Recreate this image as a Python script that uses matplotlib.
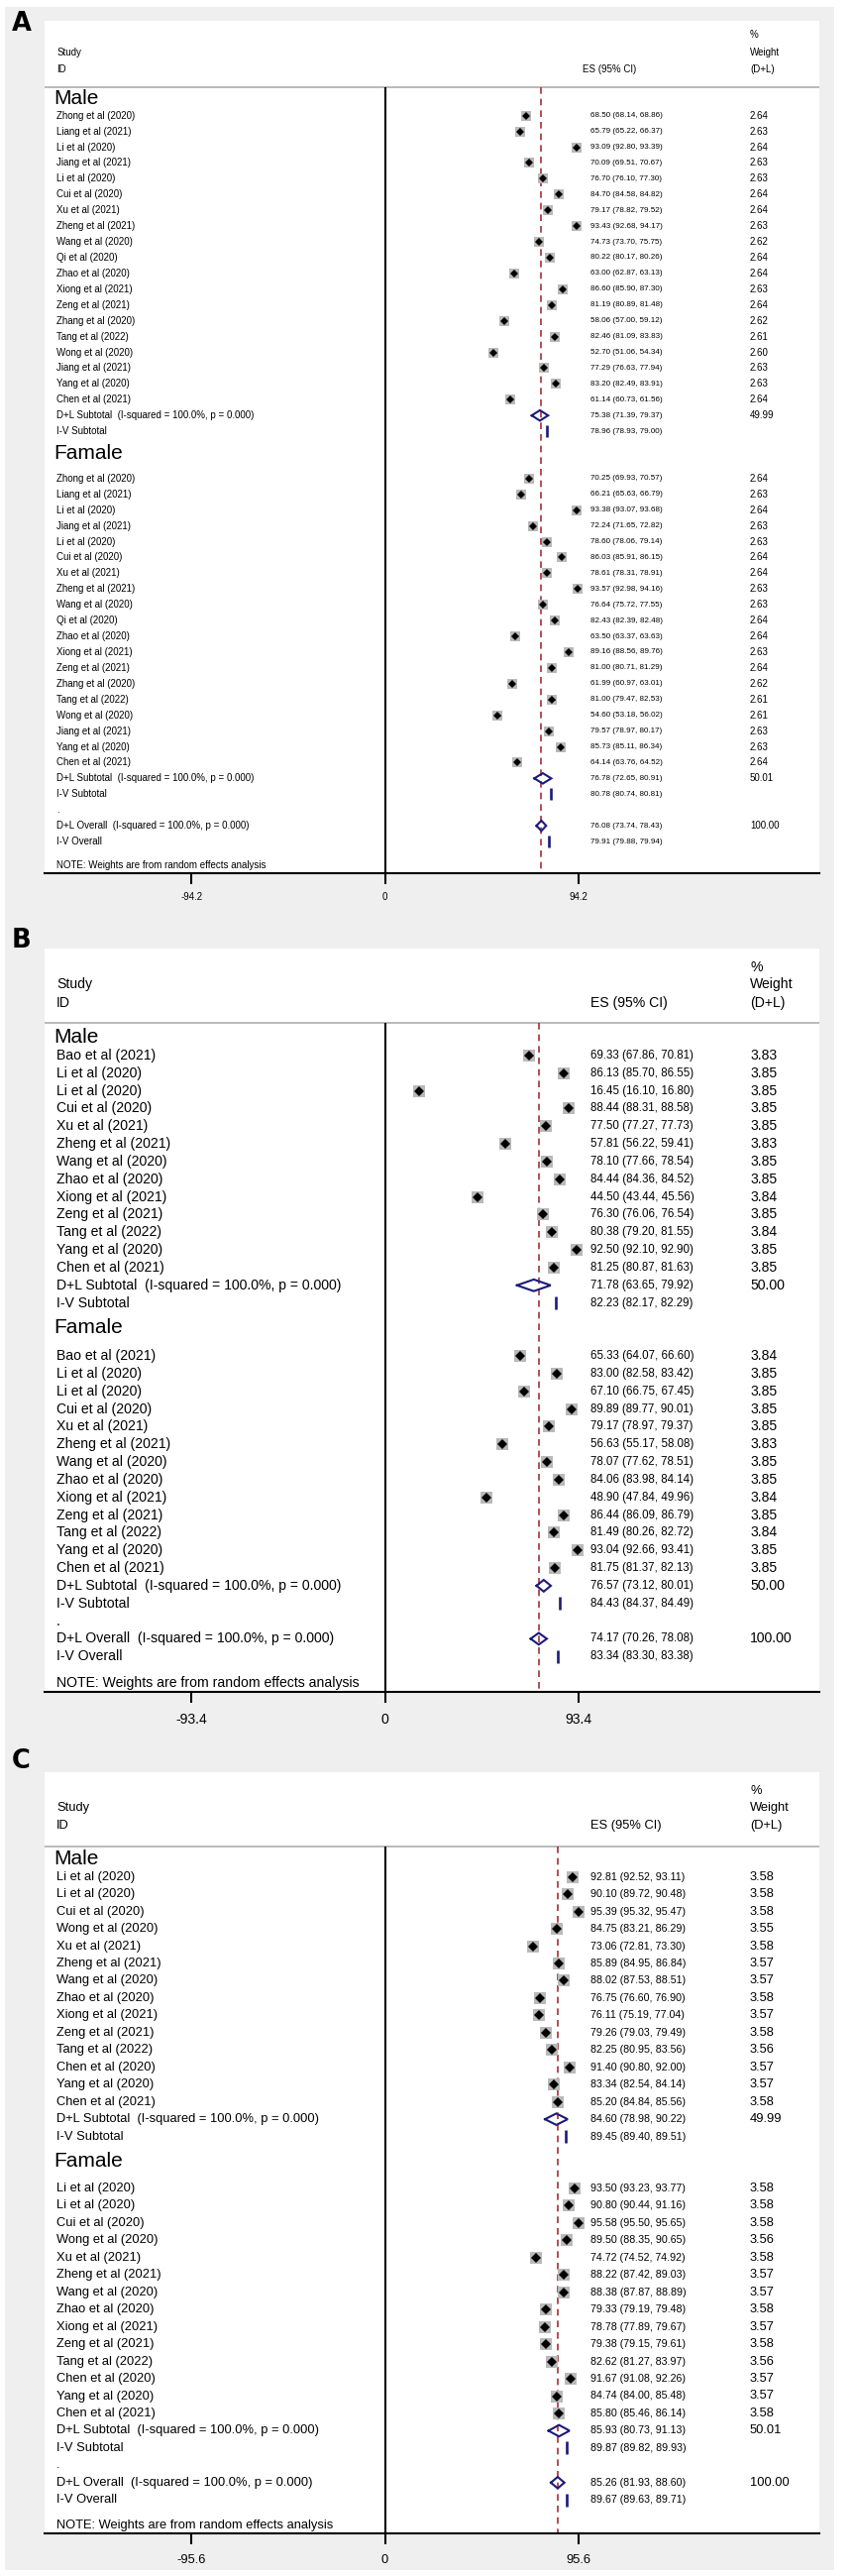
import matplotlib
matplotlib.use("Agg")
import matplotlib.pyplot as plt
from matplotlib import font_manager
from matplotlib.patches import Rectangle

W, H, DPI = 863, 2599, 100

# ---------------- data ----------------
studies_a = ["Zhong et al (2020)", "Liang et al (2021)", "Li et al (2020)", "Jiang et al (2021)",
             "Li et al (2020)", "Cui et al (2020)", "Xu et al (2021)", "Zheng et al (2021)",
             "Wang et al (2020)", "Qi et al (2020)", "Zhao et al (2020)", "Xiong et al (2021)",
             "Zeng et al (2021)", "Zhang et al (2020)", "Tang et al (2022)", "Wong et al (2020)",
             "Jiang et al (2021)", "Yang et al (2020)", "Chen et al (2021)"]
a_male_es = [68.50, 65.79, 93.09, 70.09, 76.70, 84.70, 79.17, 93.43, 74.73, 80.22, 63.00, 86.60, 81.19, 58.06, 82.46, 52.70, 77.29, 83.20, 61.14]
a_male_lo = [68.14, 65.22, 92.80, 69.51, 76.10, 84.58, 78.82, 92.68, 73.70, 80.17, 62.87, 85.90, 80.89, 57.00, 81.09, 51.06, 76.63, 82.49, 60.73]
a_male_hi = [68.86, 66.37, 93.39, 70.67, 77.30, 84.82, 79.52, 94.17, 75.75, 80.26, 63.13, 87.30, 81.48, 59.12, 83.83, 54.34, 77.94, 83.91, 61.56]
a_male_w = [2.64, 2.63, 2.64, 2.63, 2.63, 2.64, 2.64, 2.63, 2.62, 2.64, 2.64, 2.63, 2.64, 2.62, 2.61, 2.60, 2.63, 2.63, 2.64]
a_fem_es = [70.25, 66.21, 93.38, 72.24, 78.60, 86.03, 78.61, 93.57, 76.64, 82.43, 63.50, 89.16, 81.00, 61.99, 81.00, 54.60, 79.57, 85.73, 64.14]
a_fem_lo = [69.93, 65.63, 93.07, 71.65, 78.06, 85.91, 78.31, 92.98, 75.72, 82.39, 63.37, 88.56, 80.71, 60.97, 79.47, 53.18, 78.97, 85.11, 63.76]
a_fem_hi = [70.57, 66.79, 93.68, 72.82, 79.14, 86.15, 78.91, 94.16, 77.55, 82.48, 63.63, 89.76, 81.29, 63.01, 82.53, 56.02, 80.17, 86.34, 64.52]
a_fem_w = [2.64, 2.63, 2.64, 2.63, 2.63, 2.64, 2.64, 2.63, 2.63, 2.64, 2.64, 2.63, 2.64, 2.62, 2.61, 2.61, 2.63, 2.63, 2.64]
# pooled: (es, lo, hi, weight) for D+L, (es, lo, hi) for I-V
a_male_dl = (75.38, 71.39, 79.37, 49.99)
a_male_iv = (78.96, 78.93, 79.00)
a_fem_dl = (76.78, 72.65, 80.91, 50.01)
a_fem_iv = (80.78, 80.74, 80.81)
a_all_dl = (76.08, 73.74, 78.43, 100.00)
a_all_iv = (79.91, 79.88, 79.94)
a_tick = 94.2

studies_b = ["Bao et al (2021)", "Li et al (2020)", "Li et al (2020)", "Cui et al (2020)",
             "Xu et al (2021)", "Zheng et al (2021)", "Wang et al (2020)", "Zhao et al (2020)",
             "Xiong et al (2021)", "Zeng et al (2021)", "Tang et al (2022)", "Yang et al (2020)",
             "Chen et al (2021)"]
b_male_es = [69.33, 86.13, 16.45, 88.44, 77.50, 57.81, 78.10, 84.44, 44.50, 76.30, 80.38, 92.50, 81.25]
b_male_lo = [67.86, 85.70, 16.10, 88.31, 77.27, 56.22, 77.66, 84.36, 43.44, 76.06, 79.20, 92.10, 80.87]
b_male_hi = [70.81, 86.55, 16.80, 88.58, 77.73, 59.41, 78.54, 84.52, 45.56, 76.54, 81.55, 92.90, 81.63]
b_male_w = [3.83, 3.85, 3.85, 3.85, 3.85, 3.83, 3.85, 3.85, 3.84, 3.85, 3.84, 3.85, 3.85]
b_fem_es = [65.33, 83.00, 67.10, 89.89, 79.17, 56.63, 78.07, 84.06, 48.90, 86.44, 81.49, 93.04, 81.75]
b_fem_lo = [64.07, 82.58, 66.75, 89.77, 78.97, 55.17, 77.62, 83.98, 47.84, 86.09, 80.26, 92.66, 81.37]
b_fem_hi = [66.60, 83.42, 67.45, 90.01, 79.37, 58.08, 78.51, 84.14, 49.96, 86.79, 82.72, 93.41, 82.13]
b_fem_w = [3.84, 3.85, 3.85, 3.85, 3.85, 3.83, 3.85, 3.85, 3.84, 3.85, 3.84, 3.85, 3.85]
b_male_dl = (71.78, 63.65, 79.92, 50.00)
b_male_iv = (82.23, 82.17, 82.29)
b_fem_dl = (76.57, 73.12, 80.01, 50.00)
b_fem_iv = (84.43, 84.37, 84.49)
b_all_dl = (74.17, 70.26, 78.08, 100.00)
b_all_iv = (83.34, 83.30, 83.38)
b_tick = 93.4

studies_c = ["Li et al (2020)", "Li et al (2020)", "Cui et al (2020)", "Wong et al (2020)",
             "Xu et al (2021)", "Zheng et al (2021)", "Wang et al (2020)", "Zhao et al (2020)",
             "Xiong et al (2021)", "Zeng et al (2021)", "Tang et al (2022)", "Chen et al (2020)",
             "Yang et al (2020)", "Chen et al (2021)"]
c_male_es = [92.81, 90.10, 95.39, 84.75, 73.06, 85.89, 88.02, 76.75, 76.11, 79.26, 82.25, 91.40, 83.34, 85.20]
c_male_lo = [92.52, 89.72, 95.32, 83.21, 72.81, 84.95, 87.53, 76.60, 75.19, 79.03, 80.95, 90.80, 82.54, 84.84]
c_male_hi = [93.11, 90.48, 95.47, 86.29, 73.30, 86.84, 88.51, 76.90, 77.04, 79.49, 83.56, 92.00, 84.14, 85.56]
c_male_w = [3.58, 3.58, 3.58, 3.55, 3.58, 3.57, 3.57, 3.58, 3.57, 3.58, 3.56, 3.57, 3.57, 3.58]
c_fem_es = [93.50, 90.80, 95.58, 89.50, 74.72, 88.22, 88.38, 79.33, 78.78, 79.38, 82.62, 91.67, 84.74, 85.80]
c_fem_lo = [93.23, 90.44, 95.50, 88.35, 74.52, 87.42, 87.87, 79.19, 77.89, 79.15, 81.27, 91.08, 84.00, 85.46]
c_fem_hi = [93.77, 91.16, 95.65, 90.65, 74.92, 89.03, 88.89, 79.48, 79.67, 79.61, 83.97, 92.26, 85.48, 86.14]
c_fem_w = [3.58, 3.58, 3.58, 3.56, 3.58, 3.57, 3.57, 3.58, 3.57, 3.58, 3.56, 3.57, 3.57, 3.58]
c_male_dl = (84.60, 78.98, 90.22, 49.99)
c_male_iv = (89.45, 89.40, 89.51)
c_fem_dl = (85.93, 80.73, 91.13, 50.01)
c_fem_iv = (89.87, 89.82, 89.93)
c_all_dl = (85.26, 81.93, 88.60, 100.00)
c_all_iv = (89.67, 89.63, 89.71)
c_tick = 95.6

# ---------------- style ----------------
plt.rcParams['font.family'] = ['Liberation Sans', 'DejaVu Sans']
plt.rcParams['axes.unicode_minus'] = False

names = {f.name for f in font_manager.fontManager.ttflist}
if 'Liberation Sans Narrow' in names:
    narrow_family, narrow_k = ['Liberation Sans Narrow', 'Liberation Sans'], 1.0
else:
    narrow_family, narrow_k = ['Liberation Sans'], 0.82

BG = '#efefef'
BOXGRAY = '#b9b9b9'
NAVY = '#1b1b7a'
MAROON = '#a3303a'
SEPGRAY = '#b4b4b4'

# panel geometry (pixels from the top of the figure)
geom_a = dict(top=20.7, pct=35, study=53, id=70, sep=88, y0=116.7, dy=15.92, axis=880.7,
              fs=7.0, es_hdr=588, letter_y=24, sq=7.9, dm=4.3, pad=6.0)
geom_b = dict(top=956.7, pct=975.7, study=993.3, id=1011.7, sep=1032, y0=1065, dy=17.83, axis=1706.7,
              fs=10.1, es_hdr=596, letter_y=949, sq=8.6, dm=4.8, pad=7.2)
geom_c = dict(top=1788.3, pct=1806.7, study=1824, id=1841.7, sep=1862.7, y0=1893.7, dy=17.46, axis=2556,
              fs=9.3, es_hdr=596, letter_y=1777.5, sq=8.6, dm=4.8, pad=6.8)

LEFT, RIGHT, ZERO_PX, TICK_PX = 45, 826.6, 388.6, 195.4
LABEL_X, GROUP_X, ES_X, WT_X = 57.2, 53.9, 596, 757

fig = plt.figure(figsize=(W / DPI, H / DPI), dpi=DPI, facecolor='white')
fig.add_artist(Rectangle((5 / W, 1 - 2593 / H), (842 - 5) / W, (2593 - 7) / H,
                         transform=fig.transFigure, facecolor=BG, edgecolor='none', zorder=-10))


def es_text(lo_es):
    es, lo, hi = lo_es[:3]
    return f"{es:.2f} ({lo:.2f}, {hi:.2f})"


def draw_panel(letter, g, studies, male, fem, male_dl, male_iv, fem_dl, fem_iv, all_dl, all_iv, M):
    scale = TICK_PX / M
    xd = lambda px: (px - ZERO_PX) / scale
    row = lambda px: (px - g['y0']) / g['dy']

    ax = fig.add_axes([LEFT / W, 1 - g['axis'] / H, (RIGHT - LEFT) / W, (g['axis'] - g['top']) / H])
    ax.set_facecolor('white')
    ax.set_xlim(xd(LEFT), xd(RIGHT))
    ybot = row(g['axis'])
    ax.set_ylim(ybot, row(g['top']))
    for s in ('left', 'right', 'top'):
        ax.spines[s].set_visible(False)
    ax.spines['bottom'].set_linewidth(1.5)
    ax.set_yticks([])
    ax.set_xticks([-M, 0, M], labels=[f"{-M:g}", "0", f"{M:g}"])
    ax.tick_params(axis='x', direction='out', length=8, width=1.5, pad=g['pad'], labelsize=g['fs'])

    fs = g['fs']
    kw = dict(va='center', ha='left', fontsize=fs)
    nkw = dict(va='center', ha='left', fontsize=fs * narrow_k, family=narrow_family)

    # header
    ax.text(xd(LABEL_X), row(g['study']), "Study", **kw)
    ax.text(xd(LABEL_X), row(g['id']), "ID", **kw)
    ax.text(xd(g['es_hdr']), row(g['id']), "ES (95% CI)", **kw)
    ax.text(xd(WT_X), row(g['pct']), "%", **kw)
    ax.text(xd(WT_X), row(g['study']), "Weight", **kw)
    ax.text(xd(WT_X), row(g['id']), "(D+L)", **kw)
    ax.axhline(row(g['sep']), color=SEPGRAY, lw=1.3, zorder=1)

    ysep = row(g['sep'])
    ax.plot([0, 0], [ysep, ybot], color='black', lw=1.5, zorder=2, solid_capstyle='butt')
    ax.plot([all_dl[0]] * 2, [ysep, ybot], color=MAROON, lw=1.2, dashes=(4, 3), zorder=2)

    def pooled(k, dl, iv, lab):
        es, lo, hi, w = dl
        h = 0.33
        ax.plot([lo, es, hi, es, lo], [k, k - h, k, k + h, k], color=NAVY, lw=1.5, zorder=4,
                solid_joinstyle='miter')
        ax.vlines(iv[0], k + 1 - 0.37, k + 1 + 0.37, color=NAVY, lw=1.9, zorder=4)
        ax.text(xd(LABEL_X), k, lab, **kw)
        ax.text(xd(ES_X), k, es_text(dl), **nkw)
        ax.text(xd(WT_X), k, f"{w:.2f}", **kw)
        ax.text(xd(LABEL_X), k + 1, "I-V Overall" if "Overall" in lab else "I-V Subtotal", **kw)
        ax.text(xd(ES_X), k + 1, es_text(iv), **nkw)

    def group(start, name, name_row, vals, dl, iv):
        es, lo, hi, w = vals
        n = len(es)
        rows = [start + i for i in range(n)]
        ax.text(xd(GROUP_X), name_row, name, va='center', ha='left', fontsize=15)
        ax.plot(es, rows, 's', color=BOXGRAY, ms=g['sq'], mew=0, zorder=3)
        ax.hlines(rows, lo, hi, color='black', lw=0.8, zorder=4)
        ax.plot(es, rows, 'D', color='black', ms=g['dm'], mew=0, zorder=5)
        for r, lab, e, l, h_, ww in zip(rows, studies, es, lo, hi, w):
            ax.text(xd(LABEL_X), r, lab, **kw)
            ax.text(xd(ES_X), r, es_text((e, l, h_)), **nkw)
            ax.text(xd(WT_X), r, f"{ww:.2f}", **kw)
        pooled(start + n, dl, iv, "D+L Subtotal  (I-squared = 100.0%, p = 0.000)")
        return start + n + 2

    nm = len(studies)
    group(0, "Male", -1.05, male, male_dl, male_iv)
    fstart = nm + 4
    end = group(fstart, "Famale", nm + 2.42, fem, fem_dl, fem_iv)
    ax.text(xd(LABEL_X), end, ".", **kw)
    pooled(end + 1, all_dl, all_iv, "D+L Overall  (I-squared = 100.0%, p = 0.000)")
    ax.text(xd(LABEL_X), end + 3.5, "NOTE: Weights are from random effects analysis", **kw)

    fig.text(21.5 / W, 1 - g['letter_y'] / H, letter, ha='center', va='center',
             fontsize=18.5, fontweight='bold', family='DejaVu Sans')


draw_panel("A", geom_a, studies_a,
           (a_male_es, a_male_lo, a_male_hi, a_male_w), (a_fem_es, a_fem_lo, a_fem_hi, a_fem_w),
           a_male_dl, a_male_iv, a_fem_dl, a_fem_iv, a_all_dl, a_all_iv, a_tick)
draw_panel("B", geom_b, studies_b,
           (b_male_es, b_male_lo, b_male_hi, b_male_w), (b_fem_es, b_fem_lo, b_fem_hi, b_fem_w),
           b_male_dl, b_male_iv, b_fem_dl, b_fem_iv, b_all_dl, b_all_iv, b_tick)
draw_panel("C", geom_c, studies_c,
           (c_male_es, c_male_lo, c_male_hi, c_male_w), (c_fem_es, c_fem_lo, c_fem_hi, c_fem_w),
           c_male_dl, c_male_iv, c_fem_dl, c_fem_iv, c_all_dl, c_all_iv, c_tick)

fig.savefig("out.png", dpi=DPI, facecolor='white')
